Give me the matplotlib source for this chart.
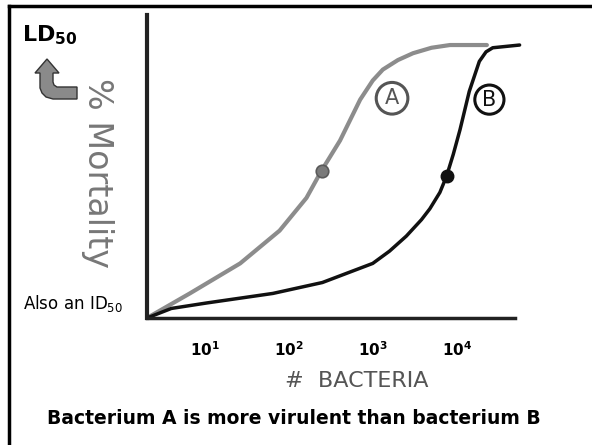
import matplotlib
matplotlib.use('Agg')
import matplotlib.pyplot as plt
from matplotlib.lines import Line2D
from matplotlib.patches import Polygon

# log10(# bacteria) vs % mortality
a_logn = [0.31, 0.82, 1.42, 1.89, 2.21, 2.39, 2.61, 2.85, 3.00, 3.12, 3.30, 3.48, 3.70, 3.92, 4.36]
a_mort = [0, 9, 20, 32, 44, 54, 65, 80, 87, 91, 94.5, 97, 99, 100, 100]
b_logn = [0.31, 0.60, 1.02, 1.81, 2.40, 3.00, 3.20, 3.40, 3.58, 3.68, 3.80, 3.88, 3.96, 4.04,
          4.15, 4.27, 4.35, 4.43, 4.75]
b_mort = [0, 3.5, 5.5, 9, 13, 20, 24.5, 30, 36, 40, 46, 52, 60, 69, 83, 94, 97.5, 99, 100]
ld50_a = (2.39, 54)
ld50_b = (3.88, 52)
label_a = (3.23, 80.5)
label_b = (4.39, 80)
tick_pos = [1, 2, 3, 4]
tick_labels = [r'$\mathbf{10^{1}}$', r'$\mathbf{10^{2}}$', r'$\mathbf{10^{3}}$', r'$\mathbf{10^{4}}$']

W, H = 592, 445
fig = plt.figure(figsize=(W / 100, H / 100), dpi=100)
ax = fig.add_axes([147 / W, 1 - 318 / H, 381 / W, 303 / H])

ax.plot(a_logn, a_mort, color='#8c8c8c', lw=3, solid_capstyle='round', solid_joinstyle='round')
ax.plot(b_logn, b_mort, color='#111111', lw=2.5, solid_capstyle='round', solid_joinstyle='round')
ax.plot(*ld50_a, 'o', ms=9, color='#7a7a7a', mec='#5a5a5a', mew=1.2)
ax.plot(*ld50_b, 'o', ms=9, color='#111111')

ax.text(*label_a, 'A', fontsize=15, color='#555555', ha='center', va='center',
        bbox=dict(boxstyle='circle,pad=0.28', fc='none', ec='#555555', lw=2.2))
ax.text(*label_b, 'B', fontsize=15, color='#111111', ha='center', va='center',
        bbox=dict(boxstyle='circle,pad=0.22', fc='none', ec='#111111', lw=2.2))

ax.set_xlim(0.31, 4.85)
ax.set_ylim(0, 111)
for s in ['top', 'right']:
    ax.spines[s].set_visible(False)
ax.spines['left'].set_linewidth(3)
ax.spines['bottom'].set_linewidth(2.5)
ax.spines['left'].set_color('#222222')
ax.spines['bottom'].set_color('#222222')
ax.spines['bottom'].set_bounds(0.31, 4.69)
ax.set_xticks(tick_pos)
ax.set_xticklabels(tick_labels, fontsize=11)
ax.set_yticks([])
ax.tick_params(axis='x', length=0, pad=16)

ax.set_xlabel('#  BACTERIA', fontsize=16, color='#555555')
ax.xaxis.set_label_coords(0.551, -0.208)
ax.xaxis.label.set_va('center')
ax.set_ylabel('% Mortality', fontsize=24, color='#777777', rotation=-90, va='center')
ax.yaxis.set_label_coords(-0.131, 0.48)

# slide frame (top and left edges)
fig.add_artist(Line2D([8.5 / W, 1], [1 - 6 / H, 1 - 6 / H], color='black', lw=2.5))
fig.add_artist(Line2D([8.5 / W, 8.5 / W], [0, 1 - 6 / H], color='black', lw=2.5))

fig.text(22 / W, 1 - 35 / H, r'$\mathbf{LD_{50}}$', fontsize=16, va='center', ha='left')

# bent arrow pointing up at LD50 (pixel outline, y measured from top)
arrow_px = [(47, 59), (59, 73), (53, 73), (53, 82), (54, 85), (57, 87), (77, 87), (77, 99),
            (53, 99), (46, 97), (42, 93), (40, 88), (40, 73), (35, 73)]
arrow = Polygon([(x / W, 1 - y / H) for x, y in arrow_px], closed=True,
                transform=fig.transFigure, fc='#8a8a8a', ec='#333333', lw=1)
fig.add_artist(arrow)

fig.text(23 / W, 1 - 304 / H, r'Also an ID$_{50}$', fontsize=12, va='center', ha='left')
fig.text(294 / W, 1 - 418 / H, 'Bacterium A is more virulent than bacterium B',
         fontsize=13.5, fontweight='bold', ha='center', va='center')

plt.savefig('out.png', dpi=100)
plt.close()
